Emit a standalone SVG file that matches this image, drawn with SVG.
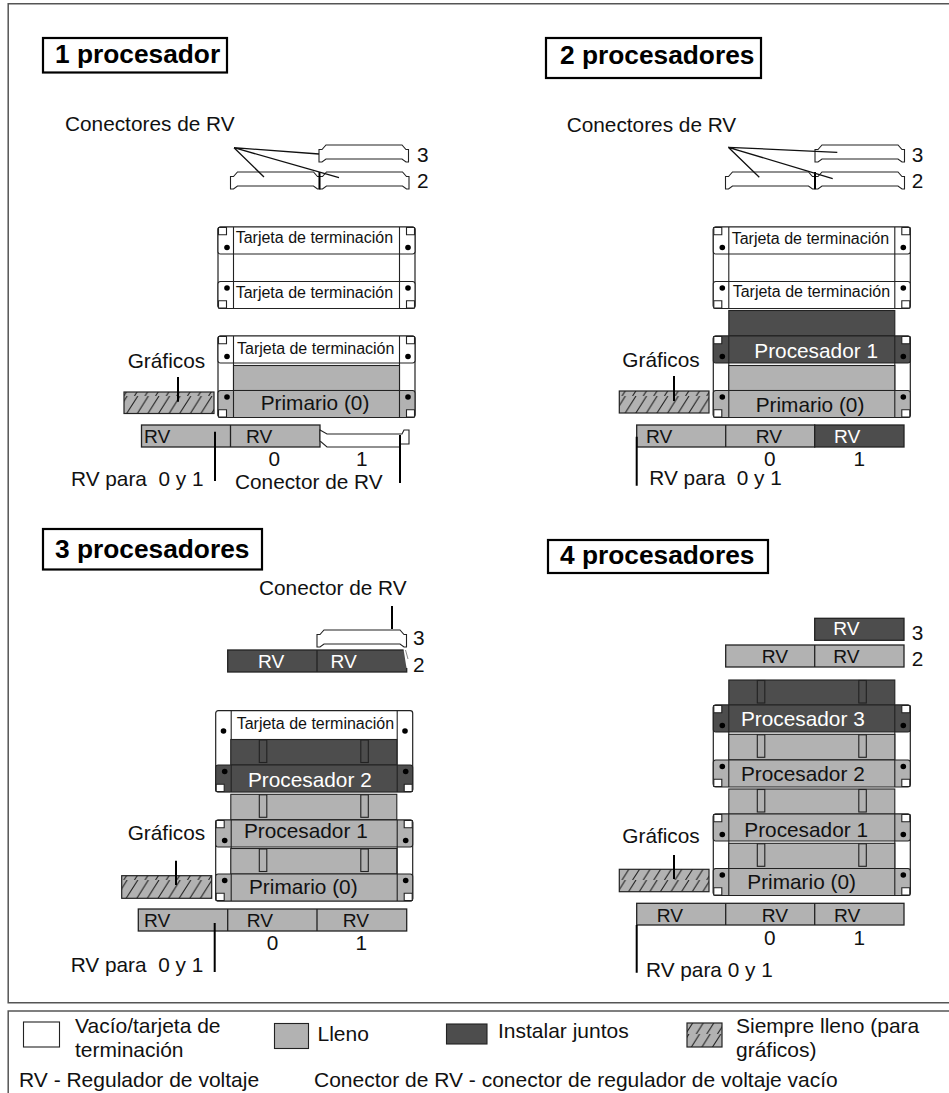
<svg xmlns="http://www.w3.org/2000/svg" width="949" height="1093" viewBox="0 0 949 1093">
<style>
text{font-family:"Liberation Sans",Arial,sans-serif;font-size:20.8px;fill:#111;white-space:pre}
.t{font-weight:bold;font-size:26.3px;fill:#000}
.s{font-size:16px}
.r{font-size:19.2px}
.l{font-size:21px}
.w{fill:#fff}
.tb{fill:#fff;stroke:#000;stroke-width:2.2}
.gray{fill:#b2b2b2}
.dark{fill:#4d4d4d}
.white{fill:#fff}
.sk{stroke:#222;stroke-width:1.1}
.ln{stroke:#111;stroke-width:1.3;fill:none}
.ld{stroke:#000;stroke-width:2;fill:none}
.bar{stroke:#222;stroke-width:1.3}
.hatch{fill:url(#h);stroke:#222;stroke-width:1.2}
.frame{fill:none;stroke:#555;stroke-width:1.5}
.vr{fill:#fff;stroke:#222;stroke-width:1.1}
</style>
<defs>
<pattern id="h" patternUnits="userSpaceOnUse" width="10.6" height="22">
<rect width="10.6" height="22" fill="#b2b2b2"/>
<path d="M-14,22L0,0M-3.4,22L10.6,0M7.2,22L21.2,0" stroke="#222" stroke-width="1.1"/>
</pattern>
<path id="vr" class="vr" d="M0,4.5H3L7,0H83L87,4.5H89.5V17H87L83,14H7L3,17H0Z"/>
<g id="frame">
<rect width="197" height="81" rx="2.5" fill="#fff" stroke="#222" stroke-width="1.2"/>
<path class="sk" d="M15.5,0V81M181.5,0V81"/>
</g>
<g id="modA">
<rect class="sk" width="197" height="27" rx="2.5"/>
<path class="sk" fill="#fff" d="M0.5,0.5H8.5V7.8H0.5ZM188.5,0.5H196.5V7.8H188.5Z"/>
<path class="sk" d="M15.5,0V27M181.5,0V27"/>
<circle cx="9" cy="20.5" r="2.8" fill="#000"/>
<circle cx="190" cy="20.5" r="2.8" fill="#000"/>
</g>
<g id="modB">
<rect class="sk" width="197" height="27" rx="2.5"/>
<path class="sk" fill="#fff" d="M0.5,19.2H8.5V26.5H0.5ZM188.5,19.2H196.5V26.5H188.5Z"/>
<path class="sk" d="M15.5,0V27M181.5,0V27"/>
<circle cx="9" cy="6.5" r="2.8" fill="#000"/>
<circle cx="190" cy="6.5" r="2.8" fill="#000"/>
</g>
<g id="block">
<rect class="sk" width="166" height="25.5"/>
<rect class="sk" x="28.5" y="0.5" width="7.5" height="22.5"/>
<rect class="sk" x="130" y="0.5" width="7.5" height="22.5"/>
</g>
</defs>

<g id="marcos">
<path class="frame" d="M949,3.7H8.2V1002.7H949"/>
<path class="frame" d="M8.2,1093V1011H949"/>
</g>

<g id="titulos">
<g id="titulo-1"><rect class="tb" x="43" y="38" width="184" height="34.5"/><text class="t" x="55" y="62.7">1 procesador</text></g>
<g id="titulo-2"><rect class="tb" x="546" y="38" width="215" height="40"/><text class="t" x="560" y="64">2 procesadores</text></g>
<g id="titulo-3"><rect class="tb" x="43" y="529" width="219" height="40.5"/><text class="t" x="55" y="558">3 procesadores</text></g>
<g id="titulo-4"><rect class="tb" x="548" y="540" width="220" height="33"/><text class="t" x="560" y="564">4 procesadores</text></g>
</g>

<g id="panel-1">
<text x="65" y="130.7">Conectores de RV</text>
<g id="p1-conectores">
<use href="#vr" x="319" y="145"/>
<use href="#vr" x="230.5" y="172"/>
<use href="#vr" x="319.5" y="172"/>
<path class="ld" d="M319.5,172V189" stroke-width="1.5"/>
<text x="417" y="162">3</text><text x="417" y="187.5">2</text>
</g>
<g id="p1-tarjetas">
<use href="#frame" x="218" y="227"/>
<use href="#modA" class="white" x="218" y="227"/>
<use href="#modB" class="white" x="218" y="281.5"/>
<text class="s" x="235.7" y="242.7">Tarjeta de terminación</text>
<text class="s" x="235.7" y="297.7">Tarjeta de terminación</text>
</g>
<g id="p1-pila">
<use href="#frame" x="218" y="336"/>
<use href="#modA" class="white" x="218" y="336"/>
<rect class="gray sk" x="233.5" y="365.5" width="166" height="25"/>
<use href="#modB" class="gray" x="218" y="390.5"/>
<text class="s" x="237" y="354">Tarjeta de terminación</text>
<text x="260.7" y="410">Primario (0)</text>
</g>
<g id="p1-graficos">
<text x="127.7" y="367.7">Gráficos</text>
<rect class="hatch" x="124" y="392" width="90" height="21.5"/>
</g>
<g id="p1-rv">
<rect class="gray bar" x="141.5" y="425" width="178.5" height="22"/>
<path class="bar" d="M230.5,425V447"/>
<path class="vr" d="M320,430L327,434H402L404,430H409V444H400V447H327L320,441Z"/>
<text class="r" x="144" y="443">RV</text><text class="r" x="246" y="443">RV</text>
<text x="268.5" y="466">0</text><text x="356" y="466">1</text>
<text x="71" y="485.7">RV para  0 y 1</text>
<text x="235" y="489.3">Conector de RV</text>
</g>
</g>

<g id="panel-2">
<text x="566.7" y="131.7">Conectores de RV</text>
<g id="p2-conectores">
<use href="#vr" x="815" y="145"/>
<use href="#vr" x="725.5" y="172"/>
<use href="#vr" x="815" y="172"/>
<path class="ld" d="M815,172V189" stroke-width="1.5"/>
<text x="911.7" y="161.7">3</text><text x="911.7" y="187.7">2</text>
</g>
<g id="p2-tarjetas">
<use href="#frame" x="713.3" y="227"/>
<use href="#modA" class="white" x="713.3" y="227"/>
<use href="#modB" class="white" x="713.3" y="281.5"/>
<text class="s" x="731.7" y="244.3">Tarjeta de terminación</text>
<text class="s" x="732.7" y="296.7">Tarjeta de terminación</text>
</g>
<g id="p2-pila">
<rect class="dark sk" x="728.8" y="310.5" width="166" height="25.5"/>
<use href="#frame" x="713.3" y="336"/>
<use href="#modA" class="dark" x="713.3" y="336"/>
<rect class="gray sk" x="728.8" y="365.5" width="166" height="25"/>
<use href="#modB" class="gray" x="713.3" y="390.5"/>
<text class="w" x="754.3" y="358.3">Procesador 1</text>
<text x="755.7" y="411.7">Primario (0)</text>
</g>
<g id="p2-graficos">
<text x="622.3" y="366.7">Gráficos</text>
<rect class="hatch" x="619.3" y="391" width="89.7" height="22"/>
</g>
<g id="p2-rv">
<rect class="gray bar" x="636.7" y="425" width="178" height="22"/>
<rect class="dark bar" x="814.7" y="425" width="89.3" height="22"/>
<path class="bar" d="M725.7,425V447"/>
<text class="r" x="646" y="443.3">RV</text><text class="r" x="755.7" y="443.3">RV</text><text class="r w" x="834" y="443.3">RV</text>
<text x="764" y="466">0</text><text x="853.5" y="466">1</text>
<text x="649.3" y="485">RV para  0 y 1</text>
</g>
</g>

<g id="panel-3">
<text x="259" y="595">Conector de RV</text>
<g id="p3-conectores">
<use href="#vr" x="317" y="630"/>
<rect class="dark bar" x="227.7" y="650" width="179" height="22"/>
<path class="bar" d="M317,650V672"/>
<path d="M403.5,649H408V668H406.5Z" fill="#fff"/>
<path d="M405.5,650L408,659" stroke="#888" stroke-width="1" fill="none"/>
<text class="r w" x="258" y="668">RV</text><text class="r w" x="330.5" y="668">RV</text>
<text x="413" y="645">3</text><text x="413" y="671.7">2</text>
</g>
<g id="p3-pila-superior">
<use href="#frame" x="215.7" y="710.7"/>
<circle cx="223.5" cy="731" r="2.8" fill="#000"/><circle cx="405" cy="731" r="2.8" fill="#000"/>
<use href="#block" class="dark" x="230.8" y="739.5"/>
<use href="#modB" class="dark" x="215.7" y="765"/>
<text class="s" x="236.7" y="729">Tarjeta de terminación</text>
<text class="w" x="248" y="786.7">Procesador 2</text>
</g>
<g id="p3-pila-inferior">
<use href="#block" class="gray" x="230.8" y="794.3"/>
<use href="#frame" x="215.7" y="820"/>
<use href="#modA" class="gray" x="215.7" y="820"/>
<use href="#block" class="gray" x="230.8" y="848.5"/>
<use href="#modB" class="gray" x="215.7" y="874"/>
<text x="244" y="838">Procesador 1</text>
<text x="249" y="894">Primario (0)</text>
</g>
<g id="p3-graficos">
<text x="127.7" y="840">Gráficos</text>
<rect class="hatch" x="121.7" y="875.7" width="90" height="22.6"/>
</g>
<g id="p3-rv">
<rect class="gray bar" x="138.3" y="909" width="268.4" height="22"/>
<path class="bar" d="M227.7,909V931M317,909V931"/>
<text class="r" x="144" y="926.7">RV</text><text class="r" x="246.7" y="926.7">RV</text><text class="r" x="342.7" y="926.7">RV</text>
<text x="266.7" y="950">0</text><text x="355.5" y="950">1</text>
<text x="70.7" y="971.7">RV para  0 y 1</text>
</g>
</g>

<g id="panel-4">
<g id="p4-rv-superior">
<rect class="dark bar" x="814.7" y="618.3" width="89.3" height="22"/>
<rect class="gray bar" x="725.7" y="645" width="178.3" height="22"/>
<path class="bar" d="M814.7,645V667"/>
<text class="r w" x="833.3" y="635">RV</text>
<text class="r" x="761.7" y="663">RV</text><text class="r" x="833.3" y="663">RV</text>
<text x="911.7" y="640">3</text><text x="911.7" y="665.7">2</text>
</g>
<g id="p4-pila-superior">
<use href="#block" class="dark" x="728.8" y="680"/>
<use href="#frame" x="713.3" y="705"/>
<use href="#modA" class="dark" x="713.3" y="705"/>
<use href="#block" class="gray" x="728.8" y="734.3"/>
<use href="#modB" class="gray" x="713.3" y="760"/>
<text class="w" x="741" y="726">Procesador 3</text>
<text x="741" y="781">Procesador 2</text>
</g>
<g id="p4-pila-inferior">
<use href="#block" class="gray" x="728.8" y="789"/>
<use href="#frame" x="713.3" y="814"/>
<use href="#modA" class="gray" x="713.3" y="814"/>
<use href="#block" class="gray" x="728.8" y="843.3"/>
<use href="#modB" class="gray" x="713.3" y="868.5"/>
<text x="744.3" y="836.7">Procesador 1</text>
<text x="747.3" y="889.3">Primario (0)</text>
</g>
<g id="p4-graficos">
<text x="622.3" y="842.7">Gráficos</text>
<rect class="hatch" x="619.3" y="869.3" width="89.7" height="22.4"/>
</g>
<g id="p4-rv">
<rect class="gray bar" x="636.7" y="903.3" width="267.3" height="21.7"/>
<path class="bar" d="M725.7,903.3V925M814.7,903.3V925"/>
<text class="r" x="656.7" y="921.7">RV</text><text class="r" x="761.7" y="921.7">RV</text><text class="r" x="834" y="921.7">RV</text>
<text x="764" y="945">0</text><text x="853.5" y="945">1</text>
<text x="646" y="976.7">RV para 0 y 1</text>
</g>
</g>

<g id="conectores">
<path class="ln" d="M234,147.7L319,154M234,147.7L339,177.7M234,147.7L264,177"/>
<path class="ld" d="M178,377V401.7M215,431.7V481M400,435V483"/>
<path class="ln" d="M728.3,147.3L837.3,152.3M728.3,147.3L832.7,178.7M728.3,147.3L759.3,177.3"/>
<path class="ld" d="M674,376V401M636.7,436.7V485.7"/>
<path class="ld" d="M392,606V629M176,860.7V885M214.7,923V972"/>
<path class="ld" d="M674,855V879M636.7,925V972.7"/>
</g>

<g id="leyenda">
<g id="ley-vacio"><rect class="sk" fill="#fff" x="23.5" y="1022" width="36" height="25"/><text class="l" x="75" y="1033">Vacío/tarjeta de</text><text class="l" x="75" y="1056.5">terminación</text></g>
<g id="ley-lleno"><rect class="gray sk" x="274.5" y="1023.5" width="34" height="25"/><text class="l" x="317.5" y="1041">Lleno</text></g>
<g id="ley-juntos"><rect class="dark sk" x="446.5" y="1024" width="40.5" height="20"/><text class="l" x="498" y="1038">Instalar juntos</text></g>
<g id="ley-siempre"><rect class="hatch" x="687" y="1023" width="35" height="24"/><text class="l" x="736" y="1033">Siempre lleno (para</text><text class="l" x="736" y="1056.5">gráficos)</text></g>
<text class="l" x="19" y="1087">RV - Regulador de voltaje</text>
<text class="l" x="314" y="1087">Conector de RV - conector de regulador de voltaje vacío</text>
</g>
</svg>
